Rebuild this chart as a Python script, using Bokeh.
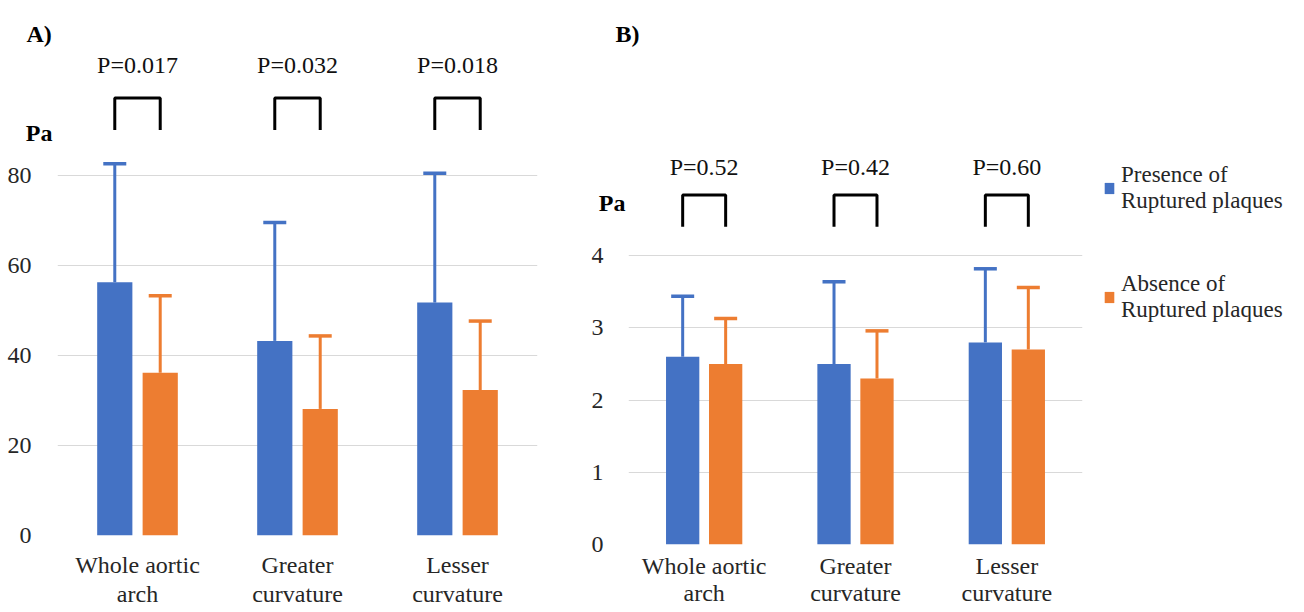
import numpy as np
from bokeh.plotting import figure
from bokeh.models import (ColumnDataSource, FactorRange, Range1d, FixedTicker,
                          Whisker, TeeHead, Legend, LegendItem, LinearAxis)
from bokeh.transform import dodge
from bokeh.layouts import row
from bokeh.embed import file_html
from bokeh.resources import INLINE
from bokeh.core.properties import value

# ---------------- data ----------------
regions = ["Whole aortic\narch", "Greater\ncurvature", "Lesser\ncurvature"]
series = ["Presence of\nRuptured plaques", "Absence of\nRuptured plaques"]

a_presence_mean = [56.2, 43.2, 51.7]
a_presence_sd = [26.3, 26.3, 28.7]
a_absence_mean = [36.1, 28.1, 32.3]
a_absence_sd = [17.1, 16.2, 15.3]
a_pvalues = ["P=0.017", "P=0.032", "P=0.018"]
a_ticks = [0, 20, 40, 60, 80]

b_presence_mean = [2.6, 2.5, 2.8]
b_presence_sd = [0.84, 1.14, 1.02]
b_absence_mean = [2.5, 2.3, 2.7]
b_absence_sd = [0.63, 0.66, 0.86]
b_pvalues = ["P=0.52", "P=0.42", "P=0.60"]
b_ticks = [0, 1, 2, 3, 4]

unit_label = "Pa"

# ---------------- style ----------------
BLUE = "#4472C4"
ORANGE = "#ED7D31"
FONT = "Liberation Serif"
TXT = "#262626"
OFF = 0.142
BW = 0.22


def style_axis(ax, size="24px"):
    ax.axis_line_color = None
    ax.major_tick_line_color = None
    ax.minor_tick_line_color = None
    ax.major_tick_out = 0
    ax.major_tick_in = 0
    ax.major_label_text_font = FONT
    ax.major_label_text_font_size = size
    ax.major_label_text_color = TXT


def make_panel(pres, pres_sd, absn, absn_sd, pvals, ticks, y_end,
               size_kw, mb_left, mb_right, mb_bottom, mb_top,
               pa_standoff, tick_standoff, xlab_standoff, xlab_lh,
               p_y, br_bot, br_top, letter, letter_offset, pa_y):
    p = figure(x_range=FactorRange(factors=regions, range_padding=0),
               y_range=Range1d(0, y_end), y_axis_location=None,
               output_backend="svg",
               toolbar_location=None, min_border_left=mb_left,
               min_border_right=mb_right, min_border_top=mb_top,
               min_border_bottom=mb_bottom, title=letter, **size_kw)
    p.outline_line_color = None
    p.xgrid.grid_line_color = None
    p.ygrid.ticker = FixedTicker(ticks=ticks)
    p.ygrid.grid_line_color = "#D9D9D9"
    p.ygrid.grid_line_width = 1.2
    p.title.align = "left"
    p.title.vertical_align = "top"
    p.title.offset = letter_offset
    p.title.standoff = 0
    p.title.text_line_height = 1.4
    p.title.text_font = FONT
    p.title.text_font_size = "24px"
    p.title.text_font_style = "bold"
    p.title.text_color = "black"

    # unit label axis (nearest the frame) and tick axis (outside it)
    ax_pa = LinearAxis(ticker=FixedTicker(ticks=[pa_y]),
                       major_label_overrides={pa_y: unit_label})
    style_axis(ax_pa)
    ax_pa.major_label_text_font_style = "bold"
    ax_pa.major_label_text_color = "black"
    ax_pa.major_label_standoff = pa_standoff
    p.add_layout(ax_pa, "left")

    ax_t = LinearAxis(ticker=FixedTicker(ticks=ticks))
    style_axis(ax_t)
    ax_t.major_label_standoff = tick_standoff
    p.add_layout(ax_t, "left")

    style_axis(p.xaxis[0])
    p.xaxis.major_label_standoff = xlab_standoff
    p.xaxis.major_label_text_line_height = xlab_lh

    src = ColumnDataSource(dict(
        region=regions,
        pres=pres, pres_hi=list(np.array(pres) + np.array(pres_sd)),
        absn=absn, absn_hi=list(np.array(absn) + np.array(absn_sd)),
    ))

    rb = p.vbar(x=dodge("region", -OFF, range=p.x_range), top="pres",
                width=BW, source=src, fill_color=BLUE, line_color=None)
    ro = p.vbar(x=dodge("region", OFF, range=p.x_range), top="absn",
                width=BW, source=src, fill_color=ORANGE, line_color=None)

    for off, lo, hi, col in ((-OFF, "pres", "pres_hi", BLUE),
                             (OFF, "absn", "absn_hi", ORANGE)):
        w = Whisker(base=dodge("region", off, range=p.x_range),
                    lower=lo, upper=hi, source=src,
                    line_color=col, line_width=3,
                    upper_head=TeeHead(size=23, line_color=col, line_width=3.5),
                    lower_head=None)
        p.add_layout(w)

    # significance brackets
    idx = np.arange(len(regions)) + 0.5
    xs = [[c - OFF, c - OFF, c + OFF, c + OFF] for c in idx]
    ys = [[br_bot, br_top, br_top, br_bot] for _ in idx]
    p.multi_line(xs=xs, ys=ys, line_color="black", line_width=3)

    p.text(x=regions, y=[p_y] * len(regions), text=pvals,
           text_align="center", text_baseline="middle",
           text_font=value(FONT), text_font_size="24px", text_color="#111111")
    return p, rb, ro


pA, _, _ = make_panel(a_presence_mean, a_presence_sd, a_absence_mean,
                      a_absence_sd, a_pvalues, a_ticks, y_end=108.1,
                      size_kw=dict(width=580, height=612),
                      mb_left=57, mb_right=43, mb_bottom=77, mb_top=48,
                      pa_standoff=5, tick_standoff=-9, xlab_standoff=16,
                      xlab_lh=1.15,
                      p_y=104.4, br_bot=90.0, br_top=97.1,
                      letter="A)", letter_offset=-31, pa_y=89.3)

pB, rb, ro = make_panel(b_presence_mean, b_presence_sd, b_absence_mean,
                        b_absence_sd, b_pvalues, b_ticks, y_end=6.872,
                        size_kw=dict(frame_width=454, frame_height=496),
                        mb_left=48, mb_right=222, mb_bottom=68, mb_top=48,
                        pa_standoff=3, tick_standoff=-8, xlab_standoff=8,
                        xlab_lh=1.05,
                        p_y=5.237, br_bot=4.402, br_top=4.841,
                        letter="B)", letter_offset=-13, pa_y=4.738)

legend = Legend(items=[LegendItem(label=series[0], renderers=[rb]),
                       LegendItem(label=series[1], renderers=[ro])],
                location="top_left", orientation="vertical",
                title=" ", title_text_font_size="10px", title_standoff=82,
                label_text_font=FONT, label_text_font_size="23px",
                label_text_color=TXT, glyph_width=12, glyph_height=14,
                label_standoff=6, spacing=57, padding=0, margin=21,
                border_line_color=None, background_fill_alpha=0)
pB.add_layout(legend, "right")

layout = row(pA, pB)
open("out.html", "w").write(file_html(layout, INLINE))
